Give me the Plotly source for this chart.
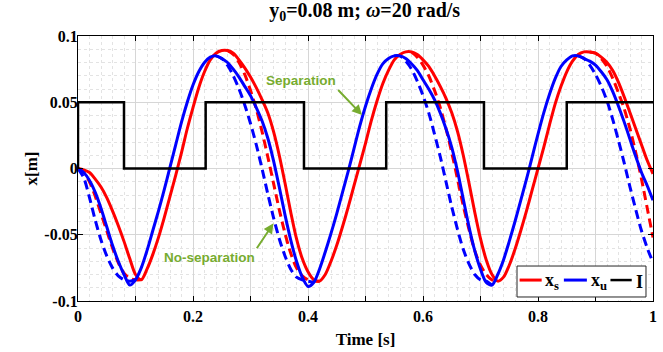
import plotly.graph_objects as go

# time grid (s)
t = [round(i * 0.01, 2) for i in range(101)]

# x_s : separation model (red solid)
xs = [0.000, -0.001, -0.003, -0.008, -0.014, -0.022, -0.032, -0.043, -0.055, -0.068,
      -0.080, -0.084, -0.076, -0.065, -0.052, -0.037, -0.021, -0.005, 0.012, 0.030,
      0.046, 0.061, 0.073, 0.082, 0.087, 0.089, 0.089, 0.087, 0.082, 0.076,
      0.069, 0.061, 0.052, 0.042, 0.028, 0.010, -0.011, -0.033, -0.053, -0.068,
      -0.078, -0.084, -0.085, -0.080, -0.070, -0.058, -0.044, -0.029, -0.013, 0.003,
      0.019, 0.036, 0.051, 0.064, 0.074, 0.082, 0.086, 0.088, 0.088, 0.086,
      0.082, 0.077, 0.070, 0.062, 0.053, 0.042, 0.028, 0.010, -0.011, -0.033,
      -0.053, -0.069, -0.080, -0.085, -0.082, -0.073, -0.061, -0.047, -0.032, -0.016,
      0.000, 0.016, 0.033, 0.049, 0.062, 0.073, 0.081, 0.086, 0.088, 0.088,
      0.087, 0.084, 0.080, 0.074, 0.065, 0.054, 0.042, 0.030, 0.018, 0.006,
      -0.004]

# x_u : (blue solid)
xu = [0.000, -0.003, -0.009, -0.018, -0.030, -0.044, -0.058, -0.070, -0.080, -0.088,
      -0.084, -0.075, -0.062, -0.047, -0.032, -0.016, 0.001, 0.018, 0.035, 0.050,
      0.063, 0.073, 0.080, 0.084, 0.085, 0.083, 0.080, 0.075, 0.069, 0.062,
      0.055, 0.046, 0.036, 0.023, 0.006, -0.014, -0.035, -0.054, -0.070, -0.082,
      -0.089, -0.086, -0.076, -0.063, -0.049, -0.034, -0.018, -0.002, 0.015, 0.032,
      0.047, 0.060, 0.071, 0.079, 0.083, 0.085, 0.085, 0.083, 0.079, 0.074,
      0.067, 0.060, 0.052, 0.042, 0.030, 0.016, -0.002, -0.023, -0.044, -0.062,
      -0.076, -0.086, -0.088, -0.080, -0.069, -0.055, -0.040, -0.024, -0.008, 0.009,
      0.026, 0.042, 0.056, 0.068, 0.077, 0.082, 0.085, 0.085, 0.083, 0.081,
      0.078, 0.073, 0.067, 0.058, 0.047, 0.035, 0.022, 0.009, -0.003, -0.013,
      -0.024]

N = None
# no-separation variants (dashed), only where they differ from the solid curves
xs_ns = [0.000, -0.003, -0.010, -0.021, -0.034, -0.047, -0.060, -0.071, -0.079, -0.083,
         -0.084, -0.084, N, N, N, N, N, N, N, N,
         N, N, N, N, N, N, 0.089, 0.086, 0.080, 0.071,
         0.059, 0.045, 0.028, 0.009, -0.011, -0.031, -0.049, -0.064, -0.075, -0.081,
         -0.084, -0.085, -0.085, N, N, N, N, N, N, N,
         N, N, N, N, N, N, N, N, 0.088, 0.084,
         0.078, 0.070, 0.059, 0.046, 0.030, 0.012, -0.008, -0.028, -0.046, -0.062,
         -0.073, -0.080, -0.084, -0.085, N, N, N, N, N, N,
         N, N, N, N, N, N, N, N, N, 0.088,
         0.087, 0.083, 0.077, 0.068, 0.057, 0.045, 0.030, 0.012, -0.008, -0.030,
         -0.052]

xu_ns = [0.000, -0.007, -0.022, -0.039, -0.054, -0.066, -0.075, -0.081, -0.084, -0.085,
         -0.084, N, N, N, N, N, N, N, N, N,
         N, N, N, N, 0.085, 0.083, 0.078, 0.070, 0.060, 0.048,
         0.034, 0.018, 0.000, -0.019, -0.037, -0.053, -0.066, -0.076, -0.082, -0.084,
         -0.085, -0.086, N, N, N, N, N, N, N, N,
         N, N, N, N, N, 0.085, 0.085, 0.081, 0.075, 0.066,
         0.055, 0.042, 0.026, 0.009, -0.010, -0.029, -0.046, -0.061, -0.072, -0.080,
         -0.084, -0.085, -0.088, N, N, N, N, N, N, N,
         N, N, N, N, N, N, N, 0.085, 0.083, 0.078,
         0.071, 0.062, 0.051, 0.037, 0.021, 0.004, -0.014, -0.031, -0.047, -0.060,
         -0.071]

# separation indicator I (square wave)
t_I = [0.0, 0.0, 0.080, 0.080, 0.222, 0.222, 0.393, 0.393, 0.536, 0.536, 0.706, 0.706, 0.850, 0.850, 1.0]
I_v = [0.0, 0.05, 0.05, 0.0, 0.0, 0.05, 0.05, 0.0, 0.0, 0.05, 0.05, 0.0, 0.0, 0.05, 0.05]

x_tickvals = [0, 0.2, 0.4, 0.6, 0.8, 1.0]
x_ticktext = ["0", "0.2", "0.4", "0.6", "0.8", "1"]
y_tickvals = [-0.1, -0.05, 0, 0.05, 0.1]
y_ticktext = ["-0.1", "-0.05", "0", "0.05", "0.1"]

legend_names = ["x<sub>s</sub>", "x<sub>u</sub>", "I"]

RED = "#ff0000"
BLUE = "#0000ff"
GREEN = "#77ac30"
SERIF = "Liberation Serif"
SANS = "Liberation Sans"
DASH = "9px,5px"

fig = go.Figure()
fig.add_trace(go.Scatter(x=t, y=xs_ns, mode="lines", showlegend=False, name="x<sub>s</sub> (no separation)",
                         line=dict(color=RED, width=3, dash=DASH, shape="spline", smoothing=0.8)))
fig.add_trace(go.Scatter(x=t, y=xu_ns, mode="lines", showlegend=False, name="x<sub>u</sub> (no separation)",
                         line=dict(color=BLUE, width=3, dash=DASH, shape="spline", smoothing=0.8)))
fig.add_trace(go.Scatter(x=t, y=xs, mode="lines", name=legend_names[0], showlegend=False,
                         line=dict(color=RED, width=3, shape="spline", smoothing=0.8)))
fig.add_trace(go.Scatter(x=t, y=xu, mode="lines", name=legend_names[1], showlegend=False,
                         line=dict(color=BLUE, width=3, shape="spline", smoothing=0.8)))
fig.add_trace(go.Scatter(x=t_I, y=I_v, mode="lines", name=legend_names[2], showlegend=False,
                         xaxis="x2", line=dict(color="black", width=2.5)))

tickfont = dict(family=SERIF, size=16, color="black", weight="bold")
titlefont = dict(family=SERIF, size=17, color="black", weight="bold")

# main x axis: ticks + solid grid every 0.1, dotted minor grid every 0.02 (no labels)
fig.update_layout(xaxis=dict(
    range=[0, 1], dtick=0.1, tick0=0, showticklabels=False,
    showline=True, linecolor="black", linewidth=1.2, mirror="ticks",
    ticks="inside", ticklen=5, tickwidth=1, tickcolor="black",
    showgrid=True, gridcolor="#d6d6d6", gridwidth=1, zeroline=False, automargin=False,
    minor=dict(dtick=0.02, tick0=0, showgrid=True, gridcolor="#e3e3e3", griddash="dot", gridwidth=1),
))
# label axis for time (overlaid, same range)
fig.update_layout(xaxis2=dict(
    range=[0, 1], overlaying="x", anchor="y", side="bottom",
    tickmode="array", tickvals=x_tickvals, ticktext=x_ticktext, tickfont=tickfont,
    ticks="", showgrid=False, showline=False, zeroline=False, automargin=False,
    ticklabelstandoff=4,
    title=dict(text="Time [s]", font=titlefont, standoff=9),
))
fig.update_layout(yaxis=dict(
    range=[-0.1, 0.1], tickmode="array", tickvals=y_tickvals, ticktext=y_ticktext, tickfont=tickfont,
    showline=True, linecolor="black", linewidth=1.2, mirror="ticks",
    ticks="inside", ticklen=5, tickwidth=1, tickcolor="black",
    showgrid=True, gridcolor="#d6d6d6", gridwidth=1, zeroline=False, automargin=False,
    minor=dict(dtick=0.01, tick0=0, showgrid=True, gridcolor="#e3e3e3", griddash="dot", gridwidth=1),
    title=dict(text="x[m]", font=titlefont, standoff=2),
))
try:
    fig.update_yaxes(ticklabelstandoff=-4)
except Exception:
    pass

annos = [
    # "Separation" with arrow starting at the text's lower-right corner
    dict(x=0.494, y=0.0404, ax=0.4525, ay=0.0592, axref="x", ayref="y", xref="x", yref="y",
         text="Separation", xanchor="right", yanchor="bottom", showarrow=True,
         arrowhead=2, arrowsize=1, arrowwidth=2, arrowcolor=GREEN, standoff=0,
         font=dict(family=SANS, size=13.5, color=GREEN, weight="bold")),
    # "No-separation" with arrow starting at the text's upper-right corner
    dict(x=0.340, y=-0.0414, ax=0.311, ay=-0.0602, axref="x", ayref="y", xref="x", yref="y",
         text="No-separation", xanchor="right", yanchor="top", showarrow=True,
         arrowhead=2, arrowsize=1, arrowwidth=2, arrowcolor=GREEN, standoff=0,
         font=dict(family=SANS, size=13.5, color=GREEN, weight="bold")),
]

# legend box (drawn by hand to match the compact MATLAB legend)
leg_font = dict(family=SERIF, size=18, color="black", weight="bold")
shapes = [
    dict(type="rect", xref="paper", yref="paper", x0=0.7635, x1=0.9878, y0=0.0151, y1=0.132,
         fillcolor="white", line=dict(color="#262626", width=1), layer="above"),
    dict(type="line", xref="paper", yref="paper", x0=0.768, x1=0.8064, y0=0.079, y1=0.079,
         line=dict(color=RED, width=3), layer="above"),
    dict(type="line", xref="paper", yref="paper", x0=0.845, x1=0.885, y0=0.079, y1=0.079,
         line=dict(color=BLUE, width=3), layer="above"),
    dict(type="line", xref="paper", yref="paper", x0=0.926, x1=0.963, y0=0.079, y1=0.079,
         line=dict(color="black", width=2.5), layer="above"),
]
for name, xl in zip(legend_names, [0.8087, 0.8887, 0.967]):
    annos.append(dict(x=xl, y=0.072, xref="paper", yref="paper", text=name, showarrow=False,
                      xanchor="left", yanchor="middle", font=leg_font))

fig.update_layout(
    width=663, height=352,
    margin=dict(l=78, r=10, t=36, b=51),
    plot_bgcolor="white", paper_bgcolor="white",
    title=dict(text="y<sub>0</sub>=0.08 m; <i>ω</i>=20 rad/s", x=0.55, xref="container", xanchor="center",
               y=0.992, yref="container", yanchor="top",
               font=dict(family=SERIF, size=20, color="black", weight="bold")),
    annotations=annos,
    shapes=shapes,
    showlegend=False,
)

fig.write_html("out.html", config={"displayModeBar": False},
               post_script="document.body.style.margin='0px';")
